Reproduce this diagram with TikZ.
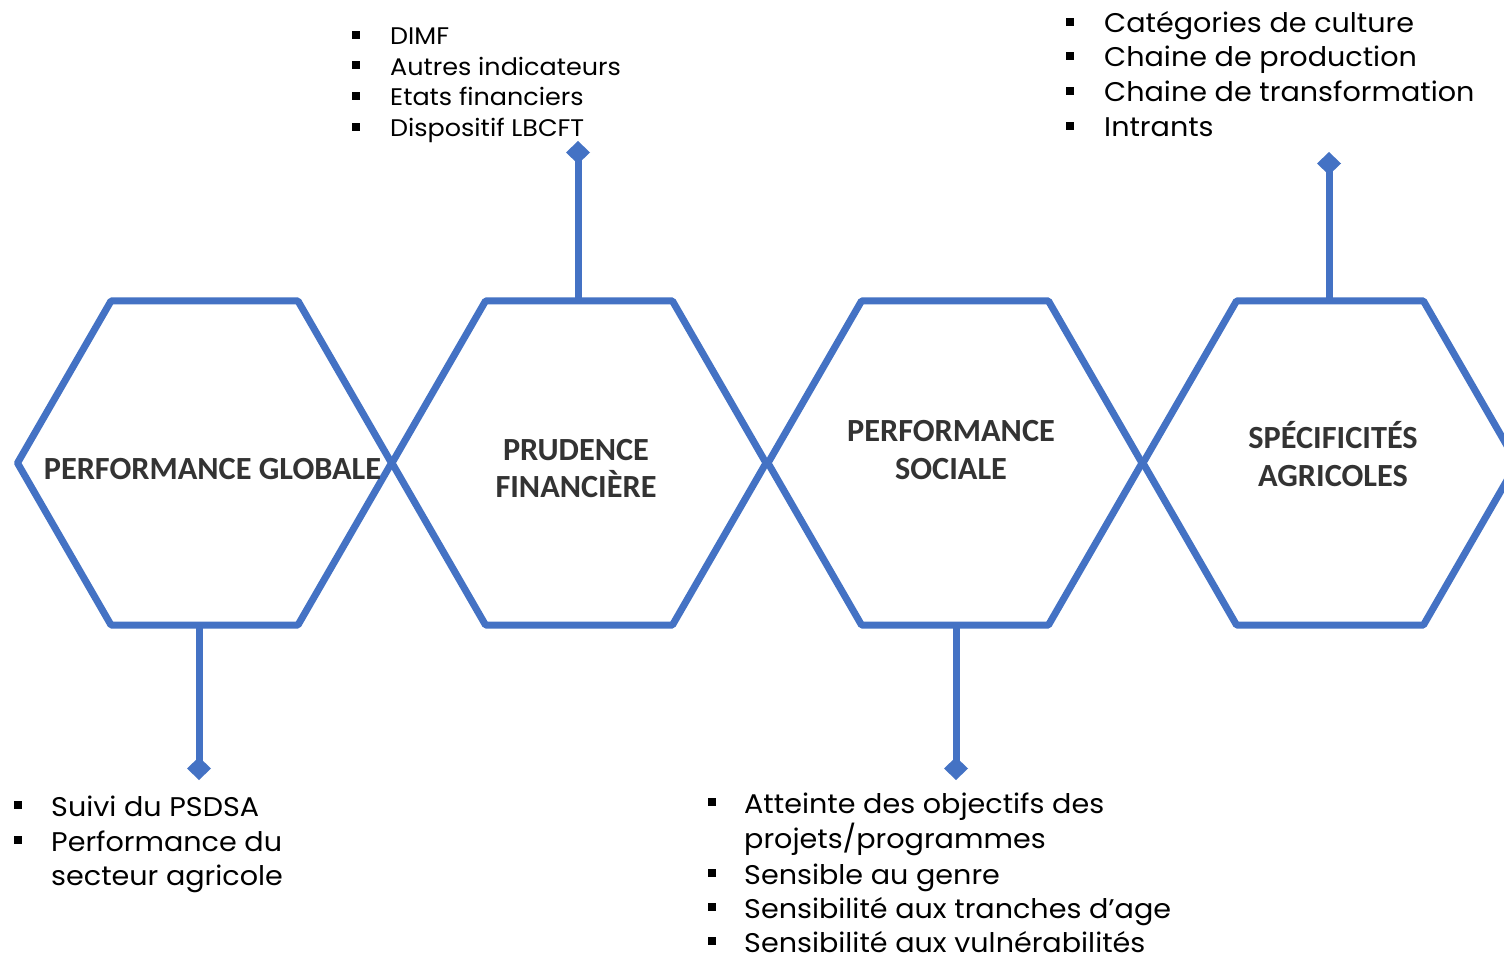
\documentclass[tikz,border=0pt]{standalone}
\usepackage{fontspec}
\setmainfont{Poppins}[FakeStretch=1.06]
\newfontfamily\hexfont{Carlito}
\usetikzlibrary{arrows.meta}
\definecolor{hexblue}{HTML}{4472C4}
\definecolor{labgray}{HTML}{333333}
\newcommand{\bulsq}[1]{\makebox[#1][l]{\rule[0.26em]{8pt}{8pt}}}
\begin{document}
\begin{tikzpicture}[x=1pt,y=-1pt,
  hexline/.style={draw=hexblue,line width=7pt,line join=round},
  conn/.style={draw=hexblue,line width=7pt,-{Diamond[length=23pt,width=24pt]}},
  hexlab/.style={font=\hexfont\bfseries\fontsize{32.3}{37}\selectfont,text=labgray,inner sep=0pt,anchor=base},
  bigitem/.style={font=\fontsize{27}{34}\selectfont,inner sep=0pt,anchor=base west},
  smallitem/.style={font=\fontsize{24}{30}\selectfont,inner sep=0pt,anchor=base west}]
\useasboundingbox (0,0) rectangle (1504,957);
\clip (0,0) rectangle (1504,957);
\fill[white] (0,0) rectangle (1504,957);
% hexagons
\foreach \cx/\nm in {204.5/h1,579/h2,955/h3,1330/h4}{
  \coordinate (\nm) at (\cx,463);
  \draw[hexline] (\cx-187,463) -- (\cx-93.5,301) -- (\cx+93.5,301) -- (\cx+187,463)
     -- (\cx+93.5,625) -- (\cx-93.5,625) -- cycle;
}
% connector anchors
\coordinate (c1s) at (199,625);   \coordinate (c1e) at (199,780);
\coordinate (c2s) at (578,301);   \coordinate (c2e) at (578,141);
\coordinate (c3s) at (956,625);   \coordinate (c3e) at (956,780);
\coordinate (c4s) at (1329,301);  \coordinate (c4e) at (1329,152);
\draw[conn] (c1s) -- (c1e);
\draw[conn] (c2s) -- (c2e);
\draw[conn] (c3s) -- (c3e);
\draw[conn] (c4s) -- (c4e);
% hexagon labels
\node[hexlab] (l1) at (212.5,479) {PERFORMANCE GLOBALE};
\node[hexlab] (l2a) at (576,460) {PRUDENCE};
\node[hexlab] (l2b) at (576,497) {FINANCIÈRE};
\node[hexlab] (l3a) at (951,441) {PERFORMANCE};
\node[hexlab] (l3b) at (951,479) {SOCIALE};
\node[hexlab] (l4a) at (1333,448) {SPÉCIFICITÉS};
\node[hexlab] (l4b) at (1333,486) {AGRICOLES};
% list above hexagon 2
\node[smallitem] (p1) at (352,45)  {\bulsq{38pt}DIMF};
\node[smallitem] (p2) at (352,75.5)  {\bulsq{38pt}Autres indicateurs};
\node[smallitem] (p3) at (352,106) {\bulsq{38pt}Etats financiers};
\node[smallitem] (p4) at (352,137) {\bulsq{38pt}Dispositif LBCFT};
% list above hexagon 4
\node[bigitem] (a1) at (1066,33)  {\bulsq{38pt}Catégories de culture};
\node[bigitem] (a2) at (1066,67)  {\bulsq{38pt}Chaine de production};
\node[bigitem] (a3) at (1066,102) {\bulsq{38pt}Chaine de transformation};
\node[bigitem] (a4) at (1066,137) {\bulsq{38pt}Intrants};
% list below hexagon 1
\node[bigitem] (g1) at (14,816) {\bulsq{37pt}Suivi du PSDSA};
\node[bigitem] (g2) at (14,851) {\bulsq{37pt}Performance du};
\node[bigitem] (g3) at (14,885) {\hspace*{37pt}secteur agricole};
% list below hexagon 3
\node[bigitem] (s1) at (708,813) {\bulsq{36pt}Atteinte des objectifs des};
\node[bigitem] (s2) at (708,848) {\hspace*{36pt}projets/programmes};
\node[bigitem] (s3) at (708,884) {\bulsq{36pt}Sensible au genre};
\node[bigitem] (s4) at (708,918) {\bulsq{36pt}Sensibilité aux tranches d’age};
\node[bigitem] (s5) at (708,952) {\bulsq{36pt}Sensibilité aux vulnérabilités};
\end{tikzpicture}
\end{document}
